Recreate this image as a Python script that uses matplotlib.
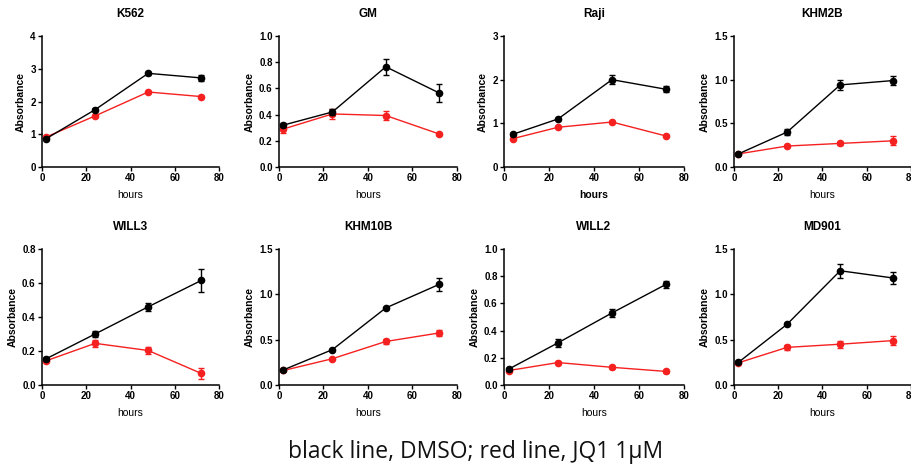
import matplotlib
matplotlib.use("Agg")
import matplotlib.pyplot as plt
from matplotlib.ticker import FormatStrFormatter

plt.rcParams['font.family'] = ['Liberation Sans', 'DejaVu Sans']

titles = ["K562", "GM", "Raji", "KHM2B", "WILL3", "KHM10B", "WILL2", "MD901"]
hours = [[2, 24, 48, 72], [2, 24, 48, 72], [4, 24, 48, 72], [2, 24, 48, 72],
         [2, 24, 48, 72], [2, 24, 48, 72], [2, 24, 48, 72], [2, 24, 48, 72]]

dmso = [[0.87, 1.75, 2.86, 2.72],
        [0.32, 0.42, 0.765, 0.565],
        [0.75, 1.10, 2.00, 1.78],
        [0.15, 0.40, 0.94, 0.99],
        [0.155, 0.30, 0.46, 0.615],
        [0.167, 0.39, 0.85, 1.11],
        [0.116, 0.31, 0.53, 0.74],
        [0.25, 0.67, 1.26, 1.18]]
dmso_err = [[0.03, 0.04, 0.04, 0.09],
            [0.015, 0.02, 0.06, 0.065],
            [0.03, 0.03, 0.11, 0.07],
            [0.01, 0.03, 0.06, 0.05],
            [0.01, 0.02, 0.025, 0.065],
            [0.01, 0.01, 0.015, 0.07],
            [0.01, 0.03, 0.03, 0.025],
            [0.01, 0.01, 0.08, 0.07]]
jq1 = [[0.92, 1.56, 2.29, 2.15],
       [0.29, 0.405, 0.393, 0.252],
       [0.65, 0.91, 1.03, 0.71],
       [0.15, 0.24, 0.27, 0.30],
       [0.143, 0.245, 0.203, 0.068],
       [0.16, 0.29, 0.48, 0.574],
       [0.106, 0.165, 0.13, 0.10],
       [0.245, 0.415, 0.45, 0.49]]
jq1_err = [[0.02, 0.03, 0.03, 0.03],
           [0.03, 0.04, 0.035, 0.01],
           [0.02, 0.02, 0.02, 0.02],
           [0.01, 0.01, 0.02, 0.05],
           [0.01, 0.02, 0.02, 0.03],
           [0.01, 0.01, 0.03, 0.03],
           [0.005, 0.01, 0.01, 0.01],
           [0.01, 0.03, 0.04, 0.05]]
ymax = [4, 1.0, 3, 1.5, 0.8, 1.5, 1.0, 1.5]
ystep = [1, 0.2, 1, 0.5, 0.2, 0.5, 0.2, 0.5]
yfmt = ["%d", "%.1f", "%d", "%.1f", "%.1f", "%.1f", "%.1f", "%.1f"]
xticks = [0, 20, 40, 60, 80]
caption = "black line, DMSO; red line, JQ1 1\u03bcM"

W, H = 912, 466
fig = plt.figure(figsize=(W / 100, H / 100), dpi=100)

lefts = [42, 279, 504, 734]
widths = [177, 178, 180, 177]
rows = [(36, 167), (249, 385)]
red = "#f52020"

for i, t in enumerate(titles):
    r, c = divmod(i, 4)
    top, bot = rows[r]
    ax = fig.add_axes([lefts[c] / W, 1 - bot / H, widths[c] / W, (bot - top) / H])
    ax.errorbar(hours[i], dmso[i], yerr=dmso_err[i], color="black", marker="o",
                ms=4.5, lw=1.0, elinewidth=1.0, capsize=2, capthick=1.0, zorder=3)
    ax.errorbar(hours[i], jq1[i], yerr=jq1_err[i], color=red, marker="o",
                ms=4.5, lw=1.0, elinewidth=1.0, capsize=2, capthick=1.0, zorder=2)
    ax.set_xlim(0, 80)
    ax.set_ylim(0, ymax[i])
    ax.set_xticks(xticks)
    n = int(round(ymax[i] / ystep[i]))
    ax.set_yticks([k * ystep[i] for k in range(n + 1)])
    ax.yaxis.set_major_formatter(FormatStrFormatter(yfmt[i]))
    for s in ["top", "right"]:
        ax.spines[s].set_visible(False)
    for s in ["left", "bottom"]:
        ax.spines[s].set_linewidth(1.1)
    ax.tick_params(direction="out", length=3, width=1.0, labelsize=7, pad=1.5)
    for lab in ax.get_xticklabels() + ax.get_yticklabels():
        lab.set_fontweight("bold")
    ax.set_title(t, fontsize=8.5, fontweight="bold", pad=14)
    ax.set_ylabel("Absorbance", fontsize=7.5, fontweight="bold", labelpad=3)
    ax.set_xlabel("hours", fontsize=7.5, fontweight="bold" if t == "Raji" else "normal",
                  labelpad=5)
    for artist in ax.get_children():
        try:
            artist.set_clip_on(False)
        except Exception:
            pass

fig.text(476 / W, 1 - 452 / H, caption, ha="center", va="center", fontsize=16.5,
         family=["Open Sans", "DejaVu Sans"], color="#111111")

fig.savefig("out.png", dpi=100)
